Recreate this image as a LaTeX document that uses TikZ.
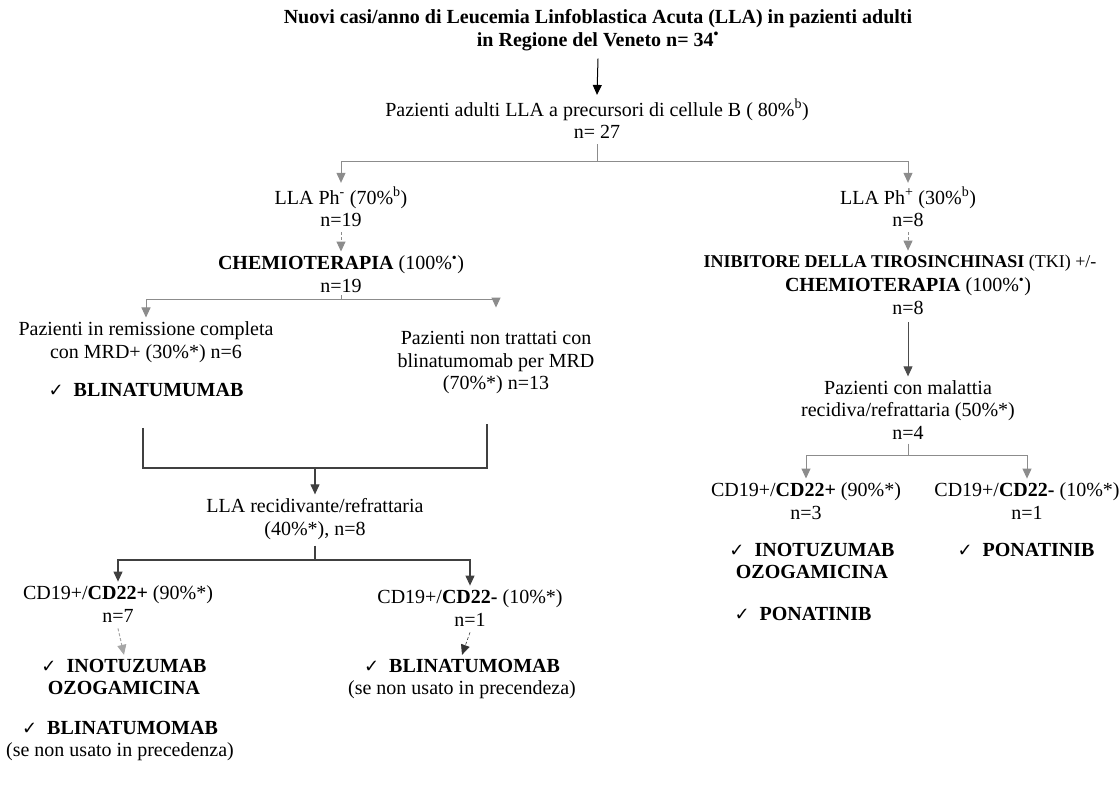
\documentclass[tikz,border=0pt]{standalone}
\usepackage{fontspec}
\setmainfont{Liberation Serif}
\newfontfamily\symfont{DejaVu Sans}
\usetikzlibrary{arrows.meta}
\newcommand\chk{{\symfont\mdseries\fontsize{18}{18}\selectfont ✓}\ \ }
\newcommand\bsup{\textsuperscript{•}}
\begin{document}
\begin{tikzpicture}[x=1pt,y=-1pt,
  txt/.style={font=\fontsize{20}{22.5}\selectfont, align=center, inner sep=0pt},
  btxt/.style={txt, font=\fontsize{20}{22.5}\selectfont\bfseries},
  ln/.style={draw=black!45, line width=1pt},
  dk/.style={draw=black!75, line width=1.1pt},
  arr/.style={-{Triangle[length=10pt,width=9pt]}},
  dsh/.style={dash pattern=on 3pt off 2pt}]
\useasboundingbox (0,0) rectangle (1120,794);

% ---- top
\node[btxt] (title) at (598,30)
  {Nuovi casi/anno di Leucemia Linfoblastica Acuta (LLA) in pazienti adulti\\in Regione del Veneto n= 34\bsup};
\node[txt] (pab) at (597,119) {Pazienti adulti LLA a precursori di cellule B ( 80\%\textsuperscript{b})\\n= 27};
\draw[black, line width=1pt, arr] ([yshift=-8pt]title.south) -- ([yshift=4pt]pab.north);

\coordinate (s1) at (597,162);
\draw[ln] ([yshift=-5pt]pab.south) -- (s1);

% ---- left branch
\node[txt] (phm) at (341,207) {LLA Ph\textsuperscript{-} (70\%\textsuperscript{b})\\n=19};
\node[txt] (chl) at (341,274) {\textbf{CHEMIOTERAPIA} (100\%\bsup)\\n=19};
\draw[ln, arr] (s1) -| ([yshift=4pt]phm.north);
\draw[ln, dsh, arr] ([yshift=-5pt]phm.south) -- ([yshift=4pt]chl.north);

\coordinate (s2) at (341,300);
\draw[ln] ([yshift=-3pt]chl.south) -- (s2);
\node[txt] (rem) at (146,342) {Pazienti in remissione completa\\con MRD+ (30\%*) n=6};
\node[btxt] (blu) at (146,390) {\chk BLINATUMUMAB};
\node[txt] (ntr) at (496,363) {Pazienti non trattati con\\blinatumomab per MRD\\(70\%*) n=13};
\draw[ln, arr] (s2) -| ([yshift=4pt]rem.north);
\draw[ln, arr] (s2) -| ([yshift=24pt]ntr.north);

\coordinate (b1) at (143,428);
\coordinate (b2) at (487,424);
\coordinate (bm) at (315,468);
\node[txt] (lrr) at (315,519) {LLA recidivante/refrattaria\\(40\%*), n=8};
\draw[dk] (b1) |- (bm) -| (b2);
\draw[dk, arr] (bm) -- ([yshift=4pt]lrr.north);

\coordinate (s3) at (315,560);
\draw[dk] ([yshift=-6pt]lrr.south) -- (s3);
\node[txt] (cdp) at (118,604) {CD19+/\textbf{CD22+} (90\%*)\\n=7};
\node[txt] (cdm) at (470,608) {CD19+/\textbf{CD22-} (10\%*)\\n=1};
\draw[dk, arr] (s3) -| ([yshift=4pt]cdp.north);
\draw[dk, arr] (s3) -| ([yshift=4pt]cdm.north);

\node[btxt] (ino) at (124,677) {\chk INOTUZUMAB\\OZOGAMICINA};
\node[txt] (bli) at (120,741) {\textbf{\chk BLINATUMOMAB}\\(se non usato in precedenza)};
\draw[draw=black!35, line width=1pt, dsh, arr] ([yshift=-6pt]cdp.south) -- ([yshift=4pt]ino.north);

\node[txt] (bl2) at (462,679) {\textbf{\chk BLINATUMOMAB}\\(se non usato in precendeza)};
\draw[black!80, line width=0.6pt, dsh, arr] ([yshift=-6pt]cdm.south) -- ([yshift=4pt]bl2.north);

% ---- right branch
\node[txt] (php) at (908,207) {LLA Ph\textsuperscript{+} (30\%\textsuperscript{b})\\n=8};
\draw[ln, arr] (s1) -| ([yshift=4pt]php.north);
\node[txt, font=\fontsize{18}{22.5}\selectfont] (tki1) at (900,263) {\textbf{INIBITORE DELLA TIROSINCHINASI} (TKI) +/-};
\node[txt] (tki) at (908,296) {\textbf{CHEMIOTERAPIA} (100\%\bsup)\\n=8};
\draw[ln, dsh, arr] ([yshift=-5pt]php.south) -- ([yshift=4pt]php.south |- tki1.north);
\node[txt] (pcm) at (908,410) {Pazienti con malattia\\recidiva/refrattaria (50\%*)\\n=4};
\draw[black!70, line width=1pt, arr] ([yshift=-8pt]tki.south) -- ([yshift=4pt]pcm.north);

\coordinate (s4) at (908,455);
\draw[ln] ([yshift=-4pt]pcm.south) -- (s4);
\node[txt] (cp2) at (806,501) {CD19+/\textbf{CD22+} (90\%*)\\n=3};
\node[txt] (cm2) at (1027,501) {CD19+/\textbf{CD22-} (10\%*)\\n=1};
\draw[ln, arr] (s4) -| ([yshift=4pt]cp2.north);
\draw[ln, arr] (s4) -| ([yshift=4pt]cm2.north);

\node[btxt] (ino2) at (812,561) {\chk INOTUZUMAB\\OZOGAMICINA};
\node[btxt] (pon1) at (803,614) {\chk PONATINIB};
\node[btxt] (pon2) at (1026,550) {\chk PONATINIB};
\end{tikzpicture}
\end{document}
